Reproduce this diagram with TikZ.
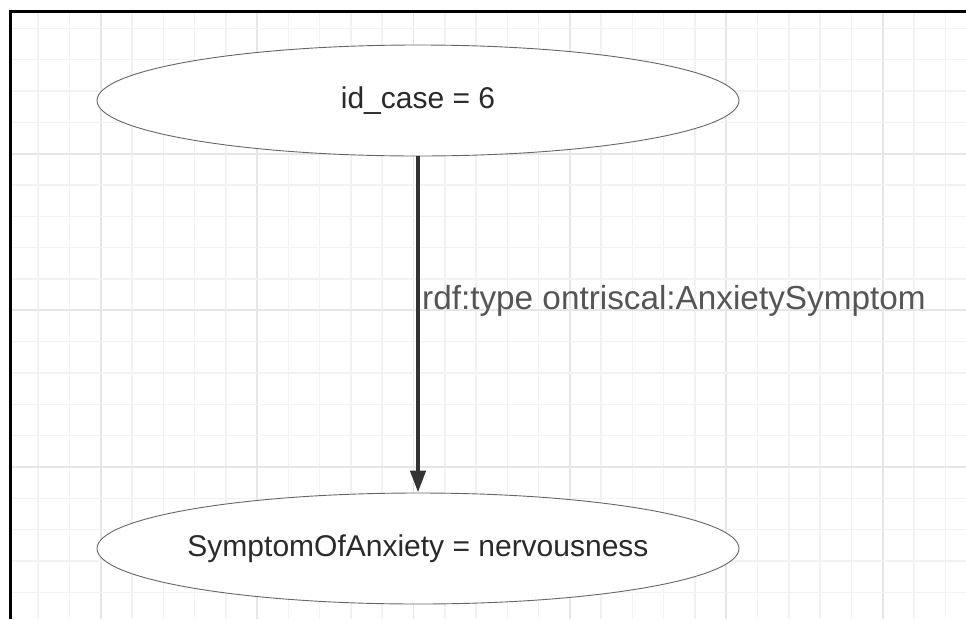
\documentclass[tikz,border=0pt]{standalone}
\usepackage{fontspec}
\setmainfont{Liberation Sans}
\usetikzlibrary{shapes.geometric,arrows.meta}
\definecolor{gridminor}{HTML}{F2F2F2}
\definecolor{gridmajor}{HTML}{E6E6E6}
\definecolor{edgegray}{HTML}{333333}
\definecolor{labelgray}{HTML}{555555}
\definecolor{ellgray}{HTML}{666666}
\definecolor{textdark}{HTML}{2A2A2A}
\tikzset{
  valnode/.style={ellipse, draw=ellgray, line width=0.9pt, fill=white,
    minimum width=642pt, minimum height=111pt, inner ysep=0pt, inner xsep=-12pt,
    text=textdark, font=\fontsize{30}{36}\selectfont},
  relarrow/.style={draw=edgegray, line width=4.5pt,
    -{Triangle[length=22pt,width=15pt]}},
  rellabel/.style={text=labelgray, font=\fontsize{33.3}{40}\selectfont, inner sep=0pt},
  minorline/.style={draw=gridminor, line width=1.5pt},
  majorline/.style={draw=gridmajor, line width=1.8pt},
  frameline/.style={draw=black, line width=2.8pt}
}
\begin{document}
\begin{tikzpicture}[x=1pt,y=-1pt]
\useasboundingbox (0,0) rectangle (966,619);
\fill[white] (0,0) rectangle (966,619);
% grid
\begin{scope}
\clip (11,11) rectangle (966,619);
\foreach \k in {-3,...,28} {
  \pgfmathsetmacro{\xx}{100.7+\k*31.28}
  \pgfmathtruncatemacro{\mm}{mod(\k+15,5)}
  \ifnum\mm=0
    \draw[majorline] (\xx,0) -- (\xx,619);
  \else
    \draw[minorline] (\xx,0) -- (\xx,619);
  \fi
}
\foreach \k in {-1,...,19} {
  \pgfmathsetmacro{\yy}{28.3+\k*31.33}
  \pgfmathtruncatemacro{\mm}{mod(\k+6,5)}
  \ifnum\mm=0
    \draw[majorline] (0,\yy) -- (966,\yy);
  \else
    \draw[minorline] (0,\yy) -- (966,\yy);
  \fi
}
\end{scope}
% frame
\coordinate (ftl) at (10.8,11.3);
\coordinate (ftr) at (966,11.3);
\coordinate (fbl) at (10.8,619);
\draw[frameline] (ftr) -- (ftl) -- (fbl);
% nodes
\node[valnode] (case) at (418,100.5) {id\_case = 6};
\node[valnode] (symptom) at (418,548.5) {SymptomOfAnxiety = nervousness};
\draw[relarrow] (case.south) -- (symptom.north);
\node[rellabel, anchor=base west] (lbl) at (422,309.5) {rdf:type ontriscal:AnxietySymptom};
\end{tikzpicture}
\end{document}
